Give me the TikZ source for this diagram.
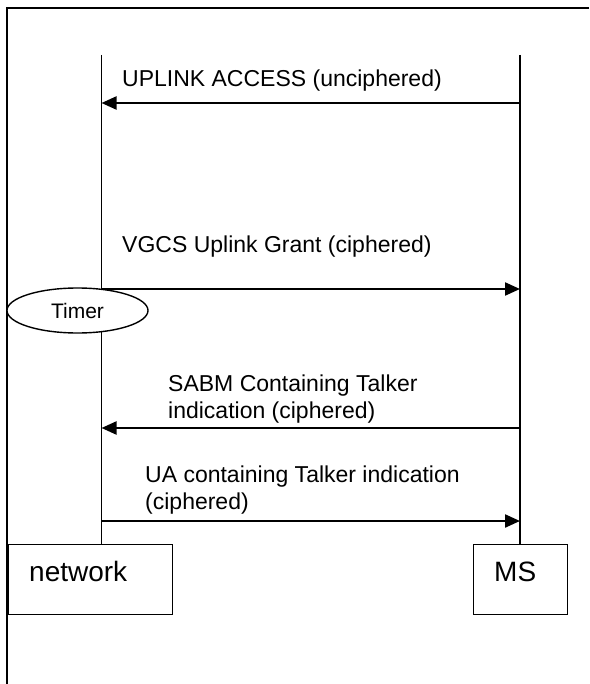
\documentclass[tikz,border=0pt]{standalone}
\usepackage{fontspec}
\setmainfont{Liberation Sans}
\usetikzlibrary{arrows.meta,shapes.geometric}

\begin{document}
\begin{tikzpicture}[x=1pt,y=-1pt,
  frame/.style={line width=1.6pt},
  lifeline/.style={line width=1.4pt},
  msg/.style={line width=2.2pt,-{Triangle[length=15pt,width=13pt]}},
  msgtext/.style={font=\fontsize{23}{26.5}\selectfont,inner sep=0pt,align=left,anchor=base west},
  entity/.style={draw,line width=1.4pt,rectangle,inner sep=0pt,anchor=north west},
  entitytext/.style={font=\fontsize{28}{32}\selectfont,inner sep=0pt,anchor=base west},
  timerbox/.style={draw,fill=white,line width=1.4pt,ellipse,minimum width=141pt,minimum height=45pt,inner sep=0pt,font=\fontsize{21}{25}\selectfont}]
\useasboundingbox (0,0) rectangle (589,684);

% page frame (top and left edges)
\coordinate (ftl) at (7,8);
\coordinate (ftr) at (589,8);
\coordinate (fbl) at (7,684);
\draw[frame] (ftr) -- (ftl) -- (fbl);

% entities
\node[entity,minimum width=164pt,minimum height=70pt] (net) at (8,544) {};
\node[entity,minimum width=94pt,minimum height=70pt] (ms) at (473,544) {};
\node[entitytext] (netlbl) at (29,581) {network};
\node[entitytext] (mslbl) at (494,581) {MS};

% lifelines
\coordinate (nettop) at (101.5,55);
\coordinate (mstop) at (520,55);
\draw[lifeline] (nettop) -- (nettop |- net.north);
\draw[lifeline] (mstop) -- (mstop |- ms.north);

% message end points
\coordinate (m1n) at (101.5,103);  \coordinate (m1s) at (520,103);
\coordinate (m2n) at (101.5,289);  \coordinate (m2s) at (520,289);
\coordinate (m3n) at (101.5,428);  \coordinate (m3s) at (520,428);
\coordinate (m4n) at (101.5,521);  \coordinate (m4s) at (520,521);

% messages (labels anchored on the baseline of their last line)
\draw[msg] (m1s) -- (m1n);
\node[msgtext] (t1) at (122,87) {UPLINK ACCESS (unciphered)};

\draw[msg] (m2n) -- (m2s);
\node[msgtext] (t2) at (122,252) {VGCS Uplink Grant (ciphered)};

\draw[msg] (m3s) -- (m3n);
\node[msgtext] (t3) at (168,418) {SABM Containing Talker\\indication (ciphered)};

\draw[msg] (m4n) -- (m4s);
\node[msgtext] (t4) at (145,509) {UA containing Talker indication\\(ciphered)};

% timer
\node[timerbox] (timer) at (77.5,310.5) {Timer};
\end{tikzpicture}
\end{document}
